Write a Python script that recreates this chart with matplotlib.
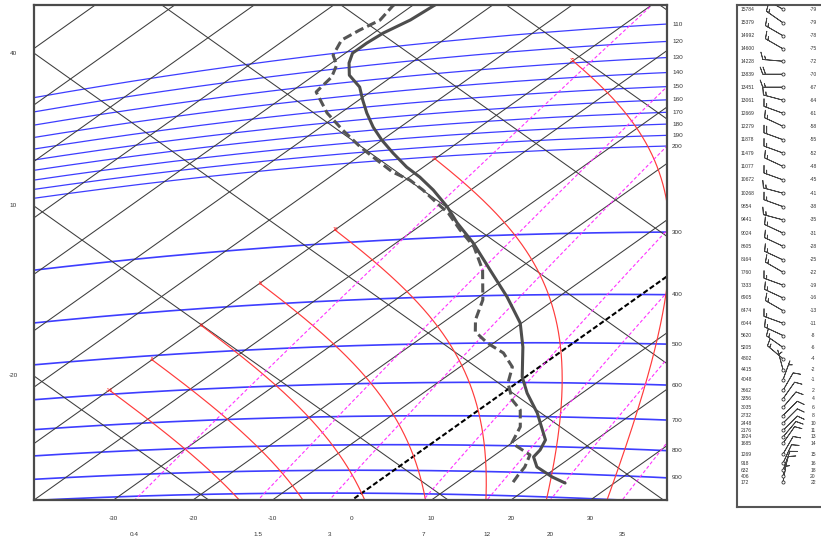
import numpy as np
import matplotlib
matplotlib.use("Agg")
import matplotlib.pyplot as plt

# ---------------- data ----------------
isotherms_c = [-130, -120, -110, -100, -90, -80, -70, -60, -50, -40, -30, -20, -10, 10, 20, 30, 40]
freezing_c = 0
dry_adiabats_c = [-50, -20, 10, 40, 70, 100, 130, 160]
theta_labels = [40, 10, -20]
isobars_hpa = [110, 120, 130, 140, 150, 160, 170, 180, 190, 200,
               300, 400, 500, 600, 700, 800, 900, 1000]
pressure_labels = [110, 120, 130, 140, 150, 160, 170, 180, 190, 200,
                   300, 400, 500, 600, 700, 800, 900]
temp_labels = [-30, -20, -10, 0, 10, 20, 30]
mixing_ratios = [0.4, 1.5, 3, 7, 12, 20, 35]
mixing_labels = ["0.4", "1.5", "3", "7", "12", "20", "35"]
theta_w = [-16, -8, 0, 8, 16, 24, 32]

# sounding (hPa, degC)
t_p = [938, 915, 877, 839, 813, 777, 689, 630, 585, 510, 456, 403, 354, 310,
       280, 258, 236.5, 220.6, 208.8, 193.3, 179.9, 167.4, 154.9, 144.3, 134.3,
       125.2, 117.1, 111.2, 106.2, 101.5, 96.1, 90.3, 85]
t_c = [23.8, 21.1, 17.4, 15.2, 14.8, 13.7, 7.9, 3.1, -0.4, -5.6, -10.2, -16.5,
       -23.4, -30.3, -35.9, -40.0, -44.7, -48.7, -52.1, -56.3, -60.0, -63.4,
       -66.7, -69.5, -72.2, -75.6, -77.8, -79.1, -79.1, -78.8, -77.7, -77.3, -76.8]
td_p = [941, 912, 879, 832, 790, 734, 680, 651, 602, 559, 524, 500, 474, 448,
        408, 354, 316, 290, 266.5, 252.8, 235.8, 223.3, 213.1, 199.1, 184.7,
        167.6, 151.7, 134.5, 125.1, 117.5, 111.0, 102.7, 98.4, 94.3, 88.0, 84]
td_c = [17.1, 16.5, 15.9, 14.4, 10.0, 8.2, 5.2, 2.5, -1.1, -3.4, -7.0, -10.8,
        -14.3, -16.4, -19.0, -24.3, -29.5, -34.3, -38.7, -41.9, -46.0, -49.4,
        -53.0, -57.1, -61.5, -66.7, -71.7, -76.8, -77.5, -79.0, -81.2, -82.8,
        -82.3, -81.5, -82.4, -82.7]

# wind panel
wind_hgt = [15784, 15379, 14992, 14600, 14228, 13839, 13451, 13061, 12669, 12279,
            11878, 11479, 11077, 10672, 10268, 9854, 9441, 9024, 8605, 8164,
            7760, 7333, 6905, 6474, 6044, 5620, 5205, 4802, 4415, 4048,
            3662, 3356, 3035, 2732, 2448, 2176, 1924, 1685, 1269, 918, 632, 406, 172]
wind_tmp = [-79, -79, -78, -75, -72, -70, -67, -64, -61, -58, -55, -52, -48, -45,
            -41, -38, -35, -31, -28, -25, -22, -19, -16, -13, -11, -8, -6, -4, -2,
            -1, 2, 4, 6, 8, 10, 11, 13, 14, 15, 16, 18, 20, 22]
wind_dir = [300, 305, 300, 300, 275, 270, 270, 285, 290, 295, 290, 290, 295, 290,
            285, 290, 285, 295, 295, 295, 300, 290, 295, 300, 290, 295, 305, 310,
            345, 20, 30, 35, 40, 45, 45, 45, 40, 35, 30, 25, 20, 15, 10]
wind_spd = [15, 15, 15, 15, 15, 20, 15, 15, 15, 15, 20, 15, 15, 15, 15, 15, 15, 15,
            15, 15, 15, 15, 15, 15, 15, 15, 15, 15, 5, 5, 10, 10, 10, 10, 10, 10,
            10, 10, 10, 10, 10, 10, 5]

# ---------------- tephigram projection ----------------
def proj_ttheta(T, theta_k):
    s = np.log(np.asarray(theta_k) / 270.7)
    T = np.asarray(T, dtype=float)
    return 3.975 * T + 1069.0 * s, -2.822 * T + 759.0 * s

def proj(T, p):
    T = np.asarray(T, dtype=float)
    p = np.asarray(p, dtype=float)
    theta = (T + 273.15) * (1000.0 / p) ** 0.2857
    return proj_ttheta(T, theta)

def pseudo_adiabat(thw):
    Rd, cp, Lv, eps = 287.04, 1005.7, 2.501e6, 0.622

    def dtdp(T, p):
        es = 6.112 * np.exp(17.67 * (T - 273.15) / (T - 29.65))
        r = eps * es / (p - es)
        return (Rd * T + Lv * r) / (p * (cp + Lv * Lv * r * eps / (Rd * T * T)))

    def integ(p0, p1, T0, n):
        ps = np.linspace(p0, p1, n)
        Ts = [T0]
        for i in range(n - 1):
            h = ps[i + 1] - ps[i]
            T = Ts[-1]
            p = ps[i]
            k1 = dtdp(T, p)
            k2 = dtdp(T + h * k1 / 2, p + h / 2)
            k3 = dtdp(T + h * k2 / 2, p + h / 2)
            k4 = dtdp(T + h * k3, p + h)
            Ts.append(T + h * (k1 + 2 * k2 + 2 * k3 + k4) / 6)
        return ps, np.array(Ts)

    pu, tu = integ(1000.0, 60.0, thw + 273.15, 941)
    pd, tdn = integ(1000.0, 1100.0, thw + 273.15, 101)
    p = np.concatenate([pd[::-1], pu[1:]])
    T = np.concatenate([tdn[::-1], tu[1:]]) - 273.15
    idx = np.argmax(T < -50)
    pend = np.interp(-50, [T[idx], T[idx - 1]], [p[idx], p[idx - 1]])
    return np.append(p[:idx], pend), np.append(T[:idx], -50.0)

# ---------------- figure ----------------
W, H = 821, 542
fig = plt.figure(figsize=(W / 100, H / 100), dpi=100)
fig.patch.set_facecolor("white")
ax = fig.add_axes([34 / W, (H - 500) / H, 633 / W, 495 / H])
XL, XR, YB, YT = -318, 315, 0, 495
ax.set_xlim(XL, XR)
ax.set_ylim(YB, YT)
ax.set_xticks([])
ax.set_yticks([])
for sp in ax.spines.values():
    sp.set_color("#4a4a4a")
    sp.set_linewidth(1.6)
    sp.set_zorder(10)

txt = dict(fontsize=4.6, color="#333333", family="Liberation Sans")
grid_col = "#3c3c3c"
pgrid = np.geomspace(1300, 20, 500)
tgrid = np.linspace(-170, 70, 600)

# isobars
for p in isobars_hpa:
    x, y = proj(tgrid, np.full_like(tgrid, p))
    lw = 0.9 if p < 300 else 1.2
    ax.plot(x, y, color="#3d3dff", lw=lw, zorder=2, solid_capstyle="butt")
    if p in pressure_labels:
        yr = np.interp(XR, x, y)
        ax.text(XR + 5, yr, str(p), ha="left", va="center", clip_on=False, **txt)

# isotherms
for T in isotherms_c:
    x, y = proj(np.full_like(pgrid, T), pgrid)
    ax.plot(x, y, color=grid_col, lw=0.75, zorder=3)
x0, y0 = proj(np.full_like(pgrid, freezing_c), pgrid)
ax.plot(x0, y0, color="black", lw=1.5, ls=(0, (2.5, 1.2)), zorder=4)
for T in temp_labels:
    x, y = proj(np.full_like(pgrid, T), pgrid)
    xb = np.interp(YB, y, x)
    ax.text(xb, YB - 19, str(T), ha="center", va="center", clip_on=False, **txt)

# dry adiabats
for th in dry_adiabats_c:
    x, y = proj_ttheta(tgrid, np.full_like(tgrid, th + 273.15))
    ax.plot(x, y, color=grid_col, lw=0.75, zorder=3)
    if th in theta_labels:
        yl = np.interp(XL, x, y)
        ax.text(XL - 21, yl, str(th), ha="center", va="center", clip_on=False, **txt)

# saturated (pseudo) adiabats
for thw in theta_w:
    p, T = pseudo_adiabat(thw)
    x, y = proj(T, p)
    ax.plot(x, y, color="#ff3b3b", lw=0.85, zorder=4)
    ax.text(x[-1], y[-1], str(thw), ha="center", va="center", color="#ff2020",
            fontsize=3.6, family="Liberation Sans", zorder=6)

# mixing ratio lines
pm = np.geomspace(1100, 50, 400)
for r, lab in zip(mixing_ratios, mixing_labels):
    e = (r / 1000.0) * pm / (0.622 + r / 1000.0)
    lr = np.log(e / 6.112)
    td = 243.5 * lr / (17.67 - lr)
    x, y = proj(td, pm)
    ax.plot(x, y, color="#ff33ff", lw=0.8, ls=(0, (3, 2)), zorder=4)
    xb = np.interp(YB, y, x)
    ax.text(xb, YB - 35, lab, ha="center", va="center", clip_on=False, **txt)

# sounding
xt, yt = proj(t_c, t_p)
ax.plot(xt, yt, color="#4d4d4d", lw=2.2, zorder=7, solid_capstyle="round")
xd, yd = proj(td_c, td_p)
ax.plot(xd, yd, color="#555555", lw=2.2, ls=(0, (3, 1.4)), zorder=7)

# ---------------- wind panel ----------------
def h_to_q(h):
    h = np.clip(np.asarray(h, dtype=float), -5000, 40000)
    trop = 1013.25 * np.clip(1 - 2.25577e-5 * h, 1e-6, None) ** 5.25588
    strat = 226.32 * np.exp(-(h - 11000.0) / 6341.62)
    return -np.log(np.where(h <= 11000, trop, strat))

def q_to_h(q):
    p = np.exp(-np.asarray(q, dtype=float))
    trop = (1 - (p / 1013.25) ** 0.190263) / 2.25577e-5
    strat = 11000.0 - 6341.62 * np.log(p / 226.32)
    return np.where(p >= 226.32, trop, strat)

bx = fig.add_axes([737 / W, (H - 507) / H, 95 / W, 502 / H])
bx.set_yscale("function", functions=(h_to_q, q_to_h))
bx.set_xlim(0, 95)
bx.set_ylim(float(q_to_h(-np.log(1117.0))), float(q_to_h(-np.log(104.3))))
bx.set_xticks([])
bx.set_yticks([])
bx.minorticks_off()
for name, sp in bx.spines.items():
    sp.set_color("#555555")
    sp.set_linewidth(1.5)
bx.spines["right"].set_visible(False)

hg = np.array(wind_hgt, dtype=float)
wd = np.deg2rad(np.array(wind_dir, dtype=float))
ws = np.array(wind_spd, dtype=float)
u = -ws * np.sin(wd)
v = -ws * np.cos(wd)
xb_ = np.full_like(hg, 46.0)
bx.barbs(xb_, hg, u, v, length=5.4, linewidth=0.6, color="#444444", zorder=3,
         sizes=dict(height=0.35, spacing=0.14))
bx.scatter(xb_, hg, s=5, facecolors="white", edgecolors="#333333", linewidths=0.6, zorder=4)
small = dict(fontsize=3.6, color="#333333", family="Liberation Sans")
for h, t in zip(wind_hgt, wind_tmp):
    bx.text(4, h, str(h), ha="left", va="center", **small)
    bx.text(76, h, str(t), ha="center", va="center", **small)

fig.savefig("out.png", dpi=100)
